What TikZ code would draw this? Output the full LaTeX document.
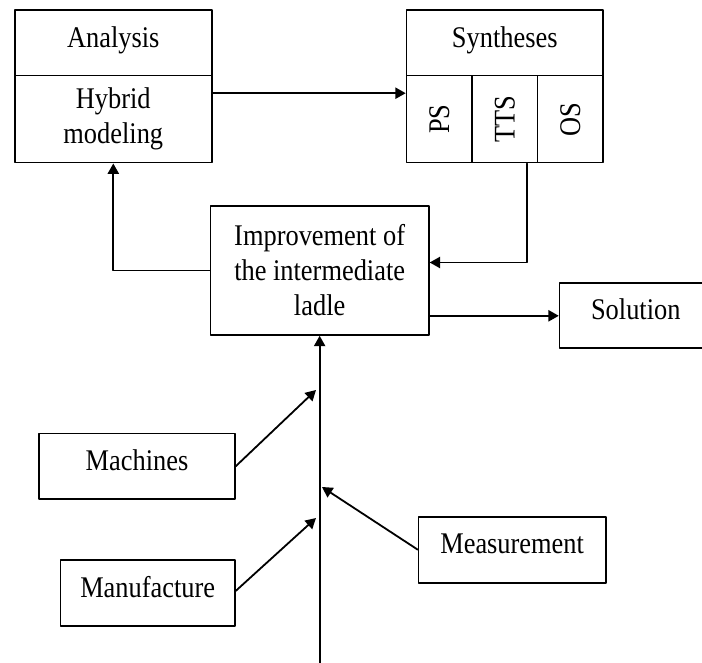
\documentclass[tikz,border=0pt]{standalone}
\usepackage{fontspec}
\setmainfont{Liberation Serif}[FakeStretch=0.88]
\usepackage{graphicx}
\usetikzlibrary{arrows.meta}

\begin{document}
\begin{tikzpicture}[line cap=round, line join=round, x=0.5pt, y=-0.5pt,
        box/.style={draw, line width=0.8pt, inner sep=0pt, align=center,
            font=\fontsize{15}{17.5}\selectfont},
        lift/.style={text height=10.2pt, text depth=6pt},
        arr/.style={line width=0.9pt, -{Triangle[length=5.2pt,width=5.6pt]}}]

    \clip (0,0) rectangle (702,663);

    % analysis side
    \node[box, lift, minimum width=98.5pt, minimum height=32.85pt] (anal) at (113.3,42.85) {Analysis};
    \node[box, minimum width=98.5pt, minimum height=43.5pt] (hyb) at (113.3,119.2) {Hybrid\\modeling};

    % syntheses side
    \node[box, lift, minimum width=98.25pt, minimum height=32.85pt] (syn) at (504.75,42.85) {Syntheses};
    \node[box, minimum width=32.75pt, minimum height=43.5pt] (ps) at (439.25,119.2) {\rotatebox{90}{PS}};
    \node[box, minimum width=32.75pt, minimum height=43.5pt] (tts) at (504.75,119.2) {\rotatebox{90}{TTS}};
    \node[box, minimum width=32.75pt, minimum height=43.5pt] (os) at (570.25,119.2) {\rotatebox{90}{OS}};

    \node[box, minimum width=109.25pt, minimum height=64.5pt] (impr) at (319.65,270.5) {Improvement of\\the intermediate\\ladle};
    \node[box, lift, minimum width=76.2pt, minimum height=32.5pt] (sol) at (635.8,315.8) {Solution};

    % inputs
    \node[box, lift, minimum width=98pt, minimum height=32.85pt] (mach) at (137,466.2) {Machines};
    \node[box, lift, minimum width=87.3pt, minimum height=32.85pt] (manu) at (147.7,592.85) {Manufacture};
    \node[box, lift, minimum width=93.55pt, minimum height=33pt] (meas) at (512.15,549.7) {Measurement};

    \coordinate (foot) at (319.65,663);
    \coordinate (m1) at (316,390);
    \coordinate (m2) at (322,487);
    \coordinate (m3) at (316,518);

    \draw[arr] ([yshift=13pt]hyb.east) -- ([yshift=13pt]ps.west);
    \draw[arr] ([xshift=11pt]tts.south) |- ([yshift=4pt]impr.east);
    \draw[arr] (impr.west) -| (hyb.south);
    \draw[arr] (impr.east |- sol.west) -- (sol.west);

    \draw[arr] (foot) -- (impr.south);
    \draw[arr] (mach.east) -- (m1);
    \draw[arr] (meas.west) -- (m2);
    \draw[arr] ([yshift=1pt]manu.east) -- (m3);

\end{tikzpicture}
\end{document}
